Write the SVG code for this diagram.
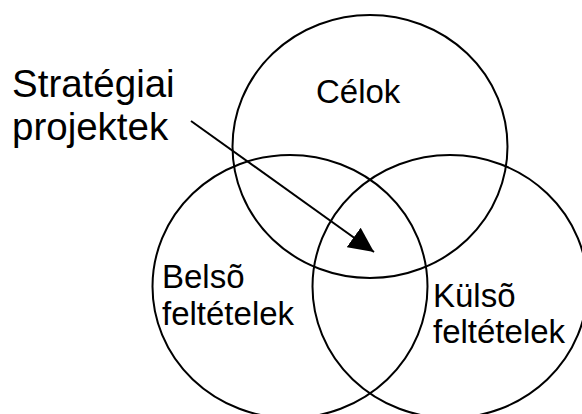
<svg xmlns="http://www.w3.org/2000/svg" width="582" height="414" viewBox="0 0 582 414">
<style>
.c{fill:none;stroke:#000;stroke-width:2}
.t{font-family:"Liberation Sans",Arial,sans-serif;fill:#000}
.s{font-size:33px}
.b{font-size:38.5px}
.e{stroke:#000;stroke-width:2;fill:none}
</style>
<defs>
<marker id="ah" markerUnits="userSpaceOnUse" markerWidth="26" markerHeight="24" refX="25" refY="12" orient="auto" viewBox="0 0 26 24">
<path d="M0,0 L25,12 L0,24 Z" fill="#000"/>
</marker>
</defs>
<rect width="582" height="414" fill="#fff"/>
<g id="celok">
<ellipse class="c" cx="370" cy="146.5" rx="137.5" ry="131.5"/>
<text class="t s" x="316" y="103">Célok</text>
</g>
<g id="belso">
<ellipse class="c" cx="290" cy="286.5" rx="137.5" ry="131.5"/>
<text class="t s" x="162" y="288">Belsõ</text>
<text class="t s" x="162" y="325">feltételek</text>
</g>
<g id="kulso">
<ellipse class="c" cx="450" cy="286.5" rx="137.5" ry="131.5"/>
<text class="t s" x="433" y="307">Külsõ</text>
<text class="t s" x="433" y="343">feltételek</text>
</g>
<g id="strategiai">
<text class="t b" x="12" y="97">Stratégiai</text>
<text class="t b" x="12" y="140">projektek</text>
</g>
<g id="connectors">
<line class="e" x1="191" y1="121" x2="374" y2="252" marker-end="url(#ah)"/>
</g>
</svg>
